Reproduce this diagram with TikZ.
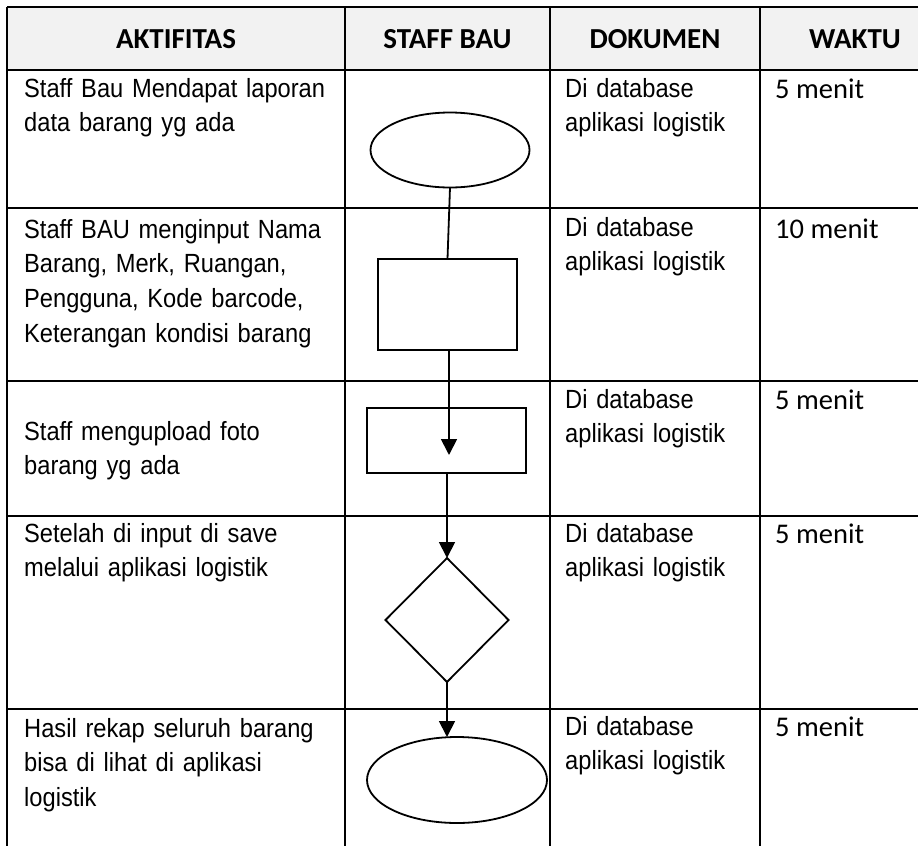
\documentclass[tikz,border=0pt]{standalone}
\usepackage{fontspec}
\setmainfont{Liberation Sans}[FakeStretch=0.9]
\newfontfamily\calfont{Carlito}
\usetikzlibrary{shapes.geometric,arrows.meta}
\definecolor{headgray}{HTML}{F2F2F2}
\tikzset{
  grid/.style={line width=1.8pt,black},
  shapeline/.style={draw=black,line width=1.8pt,fill=white,inner sep=0pt,outer sep=0pt},
  flow/.style={line width=1.8pt,black},
  flowarrow/.style={flow,-{Triangle[length=16pt,width=16pt]}},
  body/.style={inner sep=0pt,anchor=base west,text width=322pt,align=left,
    font=\fontsize{26.3}{34.8}\selectfont},
  timetext/.style={inner sep=0pt,anchor=base west,font=\calfont\fontsize{28.5}{34}\selectfont},
  headtext/.style={inner sep=0pt,anchor=base,font=\calfont\bfseries\fontsize{29}{34}\selectfont},
}
\begin{document}
\begin{tikzpicture}[x=1pt,y=-1pt]
\useasboundingbox (0,0) rectangle (918,846);
% header fill
\fill[headgray] (7,7) rectangle (918,70);
% horizontal lines
\foreach \yy in {7,70,208,381,516,709}
  \draw[grid] (7,\yy) -- (918,\yy);
% vertical lines
\foreach \xx in {7,345,550,760}
  \draw[grid] (\xx,7) -- (\xx,846);
% headers
\node[headtext] (h1) at (176,48) {AKTIFITAS};
\node[headtext] (h2) at (447.5,48) {STAFF BAU};
\node[headtext] (h3) at (655,48) {DOKUMEN};
\node[headtext] (h4) at (855,48) {WAKTU};
% activity texts
\node[body] (a1) at (24,97) {Staff Bau Mendapat laporan\\data barang yg ada};
\node[body] (a2) at (24,238) {Staff BAU menginput Nama\\Barang, Merk, Ruangan,\\Pengguna, Kode barcode,\\Keterangan kondisi barang};
\node[body] (a3) at (24,440) {Staff mengupload foto\\barang yg ada};
\node[body] (a4) at (24,542) {Setelah di input di save\\melalui aplikasi logistik};
\node[body] (a5) at (24,737) {Hasil rekap seluruh barang\\bisa di lihat di aplikasi\\logistik};
% documents
\node[body,text width=190pt] (d1) at (565,97) {Di database\\aplikasi logistik};
\node[body,text width=190pt] (d2) at (565,236) {Di database\\aplikasi logistik};
\node[body,text width=190pt] (d3) at (565,408) {Di database\\aplikasi logistik};
\node[body,text width=190pt] (d4) at (565,542) {Di database\\aplikasi logistik};
\node[body,text width=190pt] (d5) at (565,735) {Di database\\aplikasi logistik};
% times
\node[timetext] (t1) at (775,98) {5 menit};
\node[timetext] (t2) at (775,238) {10 menit};
\node[timetext] (t3) at (775,409) {5 menit};
\node[timetext] (t4) at (775,543) {5 menit};
\node[timetext] (t5) at (775,736) {5 menit};
% flow shapes
\node[shapeline,ellipse,minimum width=159pt,minimum height=75pt] (e1) at (450,150) {};
\node[shapeline,rectangle,minimum width=139pt,minimum height=91pt] (r1) at (447.5,304.5) {};
\node[shapeline,rectangle,minimum width=159pt,minimum height=65pt] (r2) at (446.5,440.5) {};
\node[shapeline,diamond,minimum width=123pt,minimum height=124pt] (dm) at (447,620) {};
\node[shapeline,ellipse,minimum width=180pt,minimum height=86pt] (e2) at (457,780) {};
\coordinate (tip) at (449,455);
% connectors
\draw[flow] (e1.south) -- (r1.north);
\draw[flowarrow] (r1.south -| tip) -- (tip);
\draw[flowarrow] (r2.south -| dm.north) -- (dm.north);
\draw[flowarrow] (dm.south) -- (dm.south |- e2.north);
\end{tikzpicture}
\end{document}
